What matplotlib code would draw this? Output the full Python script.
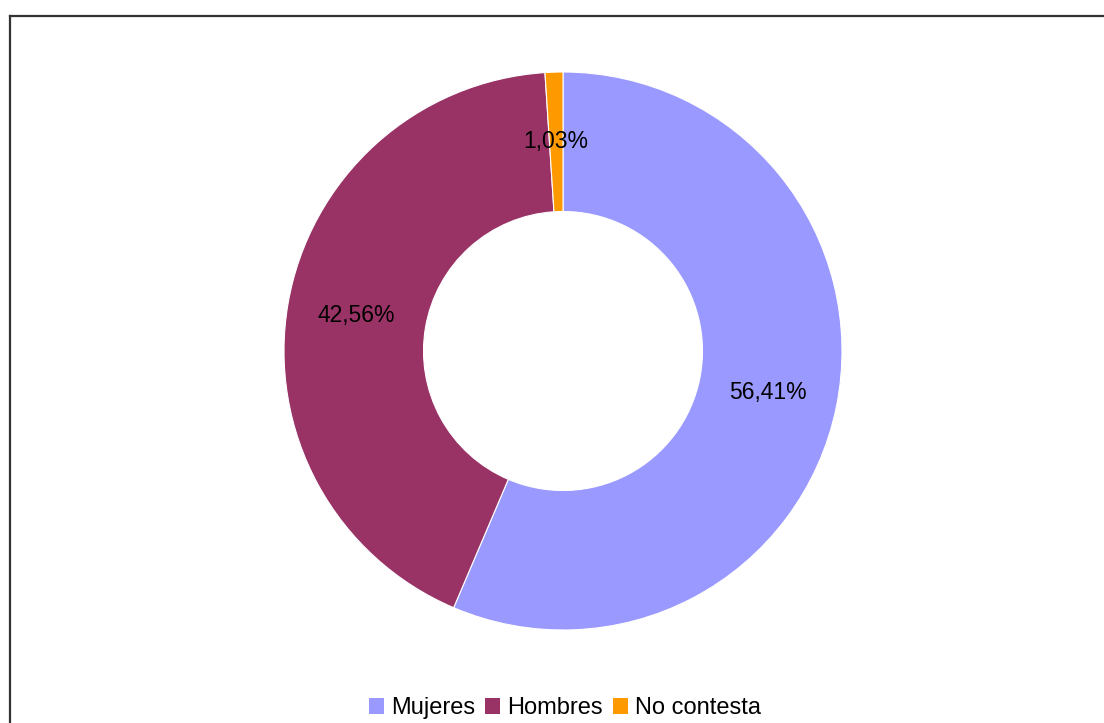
import matplotlib
matplotlib.use('Agg')
import matplotlib.pyplot as plt
from matplotlib.lines import Line2D
from matplotlib.patches import Patch

categories = ['Mujeres', 'Hombres', 'No contesta']
values = [56.41, 42.56, 1.03]
colors = ['#9999FF', '#993366', '#FF9900']

plt.rcParams['font.family'] = ['Liberation Sans', 'DejaVu Sans']

W, H = 1104, 723
fig = plt.figure(figsize=(W / 100, H / 100), dpi=100)

# donut area: centre (563, 351) px, outer radius 279 px
cx, cy, r = 563, 351, 279
ax = fig.add_axes([(cx - r) / W, (H - cy - r) / H, 2 * r / W, 2 * r / H])

def fmt(p):
    return f'{p:.2f}%'.replace('.', ',')

wedges, texts, autotexts = ax.pie(
    values, colors=colors, startangle=90, counterclock=False,
    radius=1.0, autopct=fmt, pctdistance=0.75,
    wedgeprops=dict(width=0.5, edgecolor='white', linewidth=0.8),
    textprops=dict(fontsize=16.5, color='black'))
ax.set_xlim(-1, 1)
ax.set_ylim(-1, 1)
ax.set_aspect('equal')
ax.axis('off')

# outer frame (only top and left edges fall inside the image)
fig.add_artist(Line2D([9.5 / W, 1103 / W], [(H - 15.5) / H, (H - 15.5) / H],
                      transform=fig.transFigure, color='#333333', lw=1.6))
fig.add_artist(Line2D([9.5 / W, 9.5 / W], [0, (H - 15.5) / H],
                      transform=fig.transFigure, color='#333333', lw=1.6))

handles = [Patch(facecolor=c, edgecolor='none') for c in colors]
fig.legend(handles, categories, loc='center', bbox_to_anchor=(565 / W, (H - 708) / H),
           ncol=3, frameon=False, fontsize=17, handlelength=0.65, handleheight=0.65,
           handletextpad=0.3, columnspacing=0.4, borderaxespad=0)

fig.savefig('out.png', dpi=100, facecolor='white')
